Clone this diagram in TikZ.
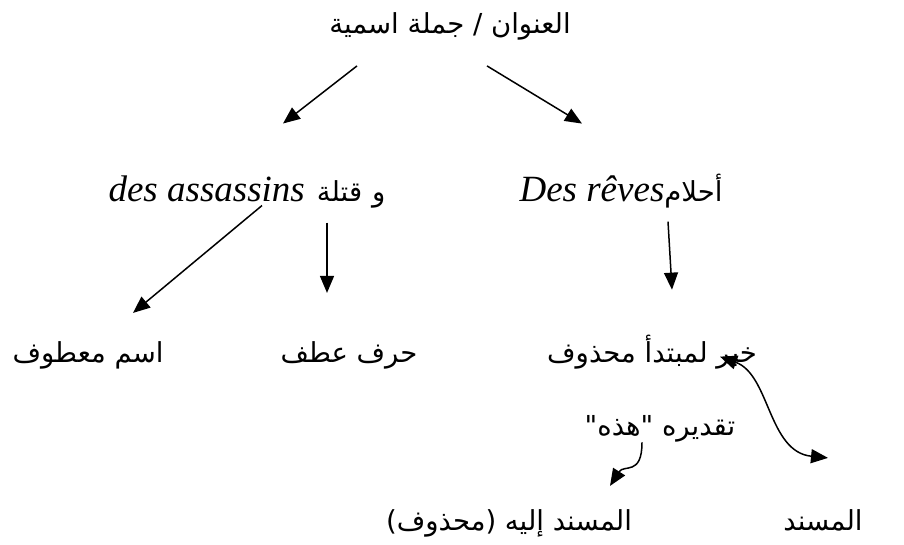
\documentclass[tikz,border=0pt]{standalone}
\usepackage{fontspec}
\setmainfont{Liberation Serif}
\newfontfamily\arabicfont[Script=Arabic]{DejaVu Sans}
\TeXXeTstate=1
\usetikzlibrary{arrows.meta,calc}

% Arabic run, set right to left
\newcommand{\artxt}[1]{{\arabicfont\beginR #1\endR}}
% Latin gloss in italics
\newcommand{\lat}[1]{{\fontsize{37}{42}\selectfont\itshape #1}}

\begin{document}
\begin{tikzpicture}[x=1pt,y=-1pt,
  lbl/.style={inner sep=0pt, anchor=base, font=\fontsize{27.5}{32}\selectfont},
  tip/.style={Triangle[length=17pt,width=14pt]},
  arr/.style={line width=1.5pt, -{Triangle[length=17pt,width=14pt]}},
  dbl/.style={line width=1.5pt, {Triangle[length=17pt,width=14pt]}-{Triangle[length=17pt,width=14pt]}}]

\useasboundingbox (0,0) rectangle (904,544);

% labels
\node[lbl] (T)  at (450,33)  {\artxt{العنوان / جملة اسمية}};
\node[lbl] (L)  at (247,201) {\lat{des assassins}\hspace{12pt}\artxt{قتلة}\hspace{10pt}\artxt{و}};
\node[lbl] (R)  at (621,201) {\lat{Des rêves}\artxt{أحلام}};
\node[lbl] (A1) at (88,362)  {\artxt{اسم معطوف}};
\node[lbl] (A2) at (349,362) {\artxt{حرف عطف}};
\node[lbl] (A3) at (652,362) {\artxt{خبر لمبتدأ محذوف}};
\node[lbl] (Q)  at (660,435) {\artxt{تقديره "هذه"}};
\node[lbl] (S2) at (509,530) {\artxt{المسند إليه (محذوف)}};
\node[lbl] (S1) at (823,530) {\artxt{المسند}};

% tree branches
\draw[arr] ($(T)+(-93,40)$) -- ($(L)+(36,-68)$);
\draw[arr] ($(T)+(37,40)$)  -- ($(R)+(-39,-67)$);
\draw[arr] ($(L)+(15,14)$)  -- ($(A1)+(45,-42)$);
\draw[arr] ($(L)+(80,31)$)  -- ($(A2)+(-22,-62)$);
\draw[arr] ($(R)+(47,31)$)  -- ($(A3)+(20,-62)$);

% curved links
\draw[dbl] ($(A3)+(68,5)$) .. controls +(50,18) and +(-60,-6) .. ($(S1)+(5,-62)$);
\draw[arr] ($(Q)+(-18,14)$) .. controls +(0,34) and +(14,-22) .. ($(S2)+(101,-37)$);
\end{tikzpicture}
\end{document}
